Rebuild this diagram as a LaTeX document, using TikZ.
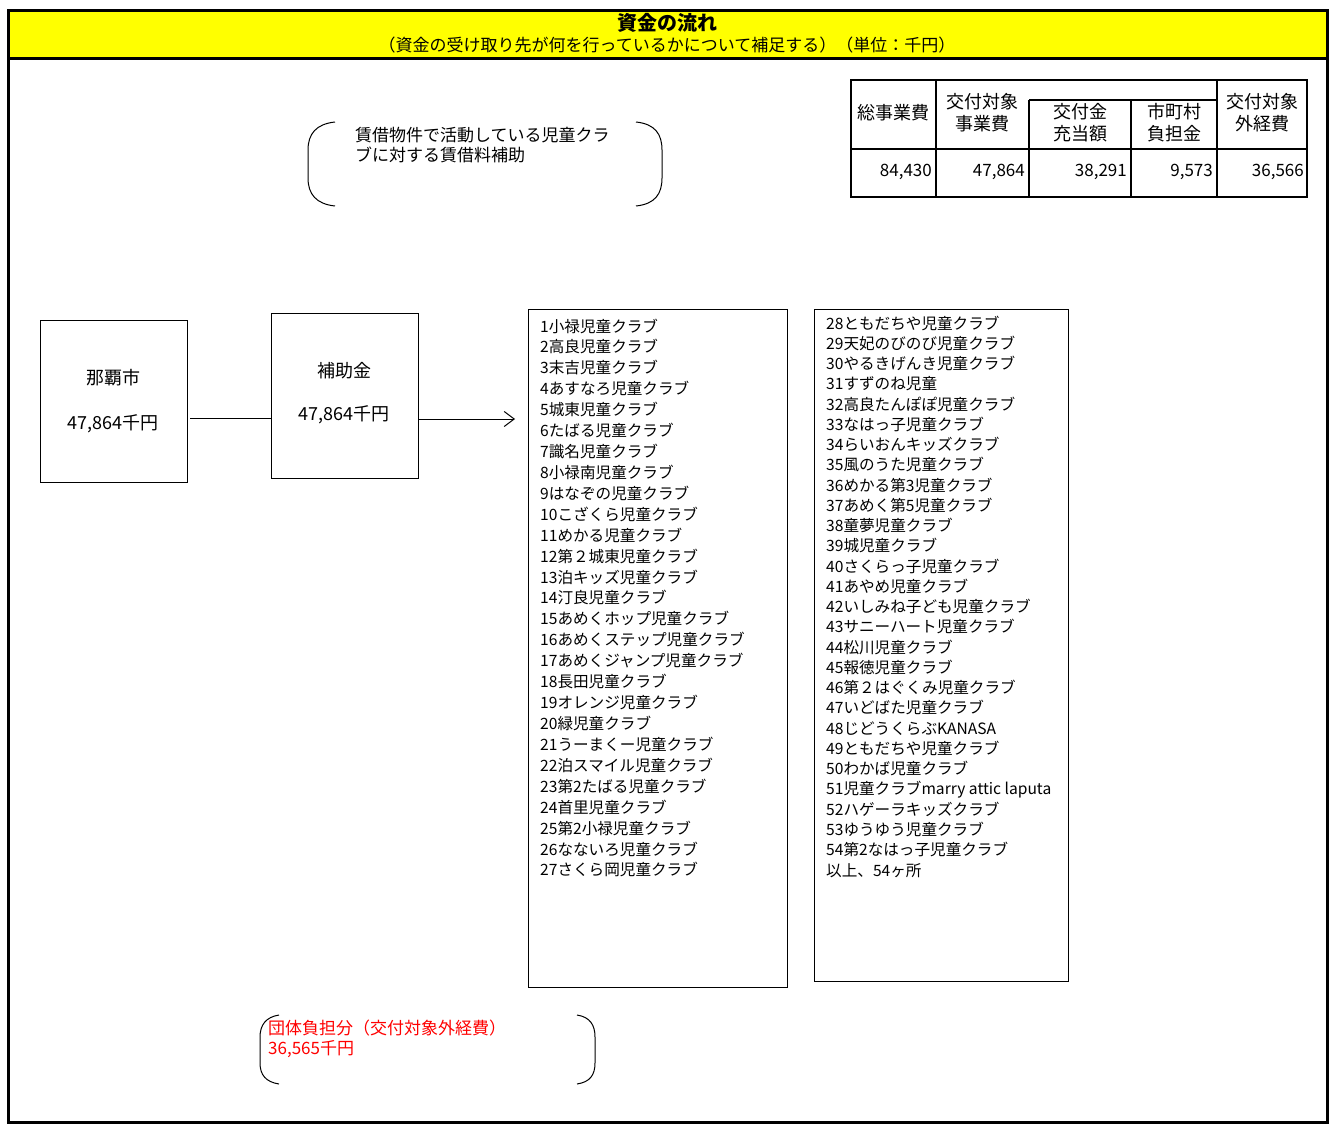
\documentclass[tikz,border=0pt]{standalone}
\usepackage{fontspec}
\setmainfont{Noto Sans CJK JP}
\usetikzlibrary{arrows.meta}
\definecolor{titleyellow}{HTML}{FFFF00}
\definecolor{notered}{HTML}{FF0000}
\begin{document}
\begin{tikzpicture}[x=1pt,y=-1pt,
  box/.style={draw, line width=1pt, inner sep=0pt},
  boxtext/.style={inner sep=0pt, font=\fontsize{18}{20}\selectfont},
  head/.style={inner sep=0pt, font=\fontsize{18}{20}\selectfont},
  num/.style={inner sep=0pt, anchor=east, font=\fontsize{17}{20}\selectfont},
  item/.style={anchor=base west, inner sep=0pt, font=\fontsize{15.6}{18}\selectfont},
  note/.style={anchor=base west, inner sep=0pt, font=\fontsize{17}{19}\selectfont},
  tline/.style={line width=1.8pt},
  brk/.style={line width=1pt}]
\useasboundingbox (0,0) rectangle (1330,1124);
% frame and title band
\fill[titleyellow] (8,11) rectangle (1327,59);
\draw[line width=3pt] (8,11) rectangle (1327,1122);
\draw[line width=3pt] (8,59) -- (1327,59);
\node[inner sep=0pt, font=\bfseries\fontsize{20}{22}\selectfont] (title) at (667,23) {資金の流れ};
\node[inner sep=0pt, font=\fontsize{17}{19}\selectfont] (subtitle) at (667,45) {（資金の受け取り先が何を行っているかについて補足する）（単位：千円）};
% table
\draw[tline] (851,80) rectangle (1307,197);
\draw[tline] (851,149) -- (1307,149);
\draw[tline] (1029,100) -- (1217,100);
\draw[tline] (936,80) -- (936,197);
\draw[tline] (1029,100) -- (1029,197);
\draw[tline] (1131,100) -- (1131,197);
\draw[tline] (1217,80) -- (1217,197);
\node[head] (h1) at (893,113) {総事業費};
\node[head] (h2a) at (982,102) {交付対象};
\node[head] (h2b) at (982,124) {事業費};
\node[head] (h3a) at (1080,112) {交付金};
\node[head] (h3b) at (1080,134) {充当額};
\node[head] (h4a) at (1174,112) {市町村};
\node[head] (h4b) at (1174,134) {負担金};
\node[head] (h5a) at (1262,102) {交付対象};
\node[head] (h5b) at (1262,124) {外経費};
\node[num] (v1) at (932,172) {84,430};
\node[num] (v2) at (1025,172) {47,864};
\node[num] (v3) at (1127,172) {38,291};
\node[num] (v4) at (1213,172) {9,573};
\node[num] (v5) at (1304,172) {36,566};
% top bracket note
\draw[brk] (335,122) .. controls (316,124) and (308,134) .. (308,150) -- (308,178) .. controls (308,194) and (316,204) .. (335,206);
\draw[brk] (636,122) .. controls (655,124) and (662,134) .. (662,150) -- (662,178) .. controls (662,194) and (655,204) .. (636,206);
\node[note] (n1a) at (355,141.5) {賃借物件で活動している児童クラ};
\node[note] (n1b) at (355,161.5) {ブに対する賃借料補助};
% flow boxes
\node[box, minimum width=147pt, minimum height=162pt] (naha) at (113.5,401) {};
\node[boxtext] (naha1) at (113,378) {那覇市};
\node[boxtext] (naha2) at (113,424) {47,864千円};
\node[box, minimum width=147pt, minimum height=165pt] (hojo) at (344.5,395.5) {};
\node[boxtext] (hojo1) at (344,371) {補助金};
\node[boxtext] (hojo2) at (344,415) {47,864千円};
\coordinate (ly) at (190,418);
\draw[line width=1pt] (ly) -- (hojo.west |- ly);
\coordinate (arrEnd) at (515,419);
\draw[line width=1pt, -{Straight Barb[length=10pt,width=15pt]}] (hojo.east |- arrEnd) -- (arrEnd);
% lists
\node[box, minimum width=259pt, minimum height=678pt] (list1) at (657.5,648) {};
\node[box, minimum width=254pt, minimum height=672pt] (list2) at (941,645) {};
\foreach \t [count=\i] in {1小禄児童クラブ,2高良児童クラブ,3末吉児童クラブ,4あすなろ児童クラブ,5城東児童クラブ,6たばる児童クラブ,7識名児童クラブ,8小禄南児童クラブ,9はなぞの児童クラブ,10こざくら児童クラブ,11めかる児童クラブ,12第２城東児童クラブ,13泊キッズ児童クラブ,14汀良児童クラブ,15あめくホップ児童クラブ,16あめくステップ児童クラブ,17あめくジャンプ児童クラブ,18長田児童クラブ,19オレンジ児童クラブ,20緑児童クラブ,21うーまくー児童クラブ,22泊スマイル児童クラブ,23第2たばる児童クラブ,24首里児童クラブ,25第2小禄児童クラブ,26なないろ児童クラブ,27さくら岡児童クラブ}
  {\node[item] (la\i) at (540,{332+20.92*(\i-1)}) {\t};}
\foreach \t [count=\i] in {28ともだちや児童クラブ,29天妃のびのび児童クラブ,30やるきげんき児童クラブ,31すずのね児童,32高良たんぽぽ児童クラブ,33なはっ子児童クラブ,34らいおんキッズクラブ,35風のうた児童クラブ,36めかる第3児童クラブ,37あめく第5児童クラブ,38童夢児童クラブ,39城児童クラブ,40さくらっ子児童クラブ,41あやめ児童クラブ,42いしみね子ども児童クラブ,43サニーハート児童クラブ,44松川児童クラブ,45報徳児童クラブ,46第２はぐくみ児童クラブ,47いどばた児童クラブ,48じどうくらぶKANASA,49ともだちや児童クラブ,50わかば児童クラブ,51児童クラブmarry attic laputa,52ハゲーラキッズクラブ,53ゆうゆう児童クラブ,54第2なはっ子児童クラブ,以上、54ヶ所}
  {\node[item] (lb\i) at (826,{329+20.26*(\i-1)}) {\t};}
% bottom bracket note
\draw[brk] (279,1015) .. controls (266,1017) and (260,1025) .. (260,1037) -- (260,1063) .. controls (260,1075) and (266,1082) .. (279,1084);
\draw[brk] (577,1015) .. controls (590,1017) and (595,1025) .. (595,1037) -- (595,1063) .. controls (595,1075) and (590,1082) .. (577,1084);
\node[note, text=notered] (n2a) at (268,1034.5) {団体負担分（交付対象外経費）};
\node[note, text=notered] (n2b) at (268,1054.5) {36,565千円};
\end{tikzpicture}
\end{document}
